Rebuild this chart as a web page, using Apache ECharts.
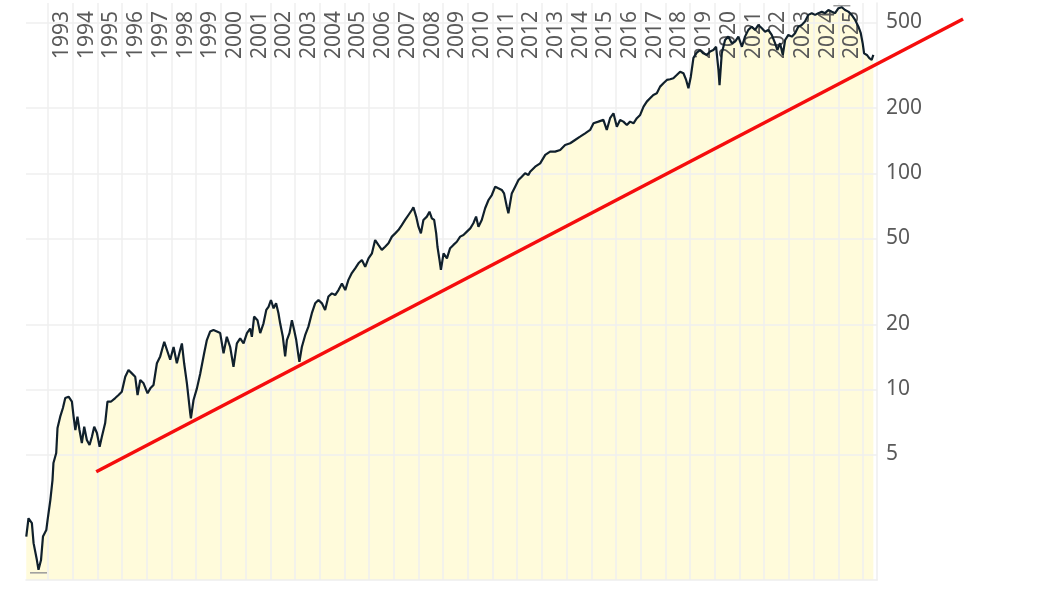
<!DOCTYPE html>
<html lang="en" style="height: 100%">
  <head>
    <meta charset="utf-8" />
    <script src="https://cdn.jsdelivr.net/npm/echarts@6/dist/echarts.min.js"></script>
  </head>
  <body style="height: 100%; margin: 0; background: #fff">
    <div id="container" style="width: 1058px; height: 595px"></div>
    <script type="text/javascript">
      // price history (log scale)
      const dates = [
        "1992-02-14", "1992-03-18", "1992-05-07", "1992-06-01", "1992-07-20", "1992-08-13", "1992-09-19", "1992-10-18",
        "1992-12-06", "1992-12-25", "1993-02-04", "1993-03-08", "1993-03-22", "1993-05-02", "1993-05-21", "1993-06-30",
        "1993-08-09", "1993-09-13", "1993-11-01", "1993-12-20", "1994-01-14", "1994-02-09", "1994-03-12", "1994-04-11",
        "1994-05-16", "1994-06-20", "1994-07-29", "1994-09-07", "1994-10-12", "1994-11-15", "1994-12-25", "1995-02-03",
        "1995-03-08", "1995-04-26", "1995-05-30", "1995-07-19", "1995-09-22", "1995-11-10", "1995-12-28", "1996-02-17",
        "1996-04-05", "1996-05-25", "1996-07-13", "1996-08-17", "1996-09-26", "1996-11-14", "1997-01-12", "1997-02-22",
        "1997-04-10", "1997-05-30", "1997-07-18", "1997-09-16", "1997-10-26", "1997-12-13", "1998-02-01", "1998-03-21",
        "1998-05-09", "1998-06-04", "1998-07-07", "1998-08-17", "1998-10-05", "1998-10-15", "1998-11-23", "1999-01-12",
        "1999-03-01", "1999-04-29", "1999-06-08", "1999-07-26", "1999-09-14", "1999-11-04", "1999-12-22", "2000-02-10",
        "2000-03-29", "2000-05-18", "2000-07-06", "2000-08-25", "2000-10-13", "2000-12-02", "2001-01-21", "2001-03-09",
        "2001-04-04", "2001-05-07", "2001-06-26", "2001-08-05", "2001-09-23", "2001-11-03", "2001-12-06", "2002-01-11",
        "2002-02-19", "2002-03-28", "2002-05-02", "2002-05-27", "2002-07-06", "2002-08-09", "2002-09-04", "2002-10-12",
        "2002-11-17", "2002-12-20", "2003-01-20", "2003-02-23", "2003-03-08", "2003-04-13", "2003-06-01", "2003-07-19",
        "2003-09-08", "2003-10-27", "2003-12-15", "2004-02-04", "2004-03-22", "2004-05-10", "2004-06-30", "2004-08-18",
        "2004-10-06", "2004-11-26", "2005-01-14", "2005-03-02", "2005-04-21", "2005-06-10", "2005-07-28", "2005-09-17",
        "2005-11-05", "2005-12-24", "2006-02-13", "2006-04-01", "2006-05-19", "2006-07-09", "2006-08-27", "2006-10-15",
        "2006-12-05", "2007-01-23", "2007-03-11", "2007-04-30", "2007-06-18", "2007-08-07", "2007-09-26", "2007-10-19",
        "2007-11-29", "2008-01-02", "2008-02-07", "2008-03-15", "2008-05-05", "2008-06-13", "2008-07-18", "2008-08-21",
        "2008-09-20", "2008-10-09", "2008-11-08", "2008-11-29", "2009-01-07", "2009-02-26", "2009-04-14", "2009-06-02",
        "2009-07-22", "2009-09-10", "2009-10-28", "2009-12-18", "2010-02-06", "2010-03-24", "2010-05-03", "2010-06-07",
        "2010-07-26", "2010-09-14", "2010-11-03", "2010-12-22", "2011-02-10", "2011-03-28", "2011-05-18", "2011-06-21",
        "2011-08-01", "2011-08-24", "2011-10-13", "2011-12-02", "2012-01-20", "2012-03-09", "2012-04-27", "2012-06-15",
        "2012-07-10", "2012-09-23", "2012-12-06", "2013-02-19", "2013-05-02", "2013-07-15", "2013-09-28", "2013-12-10",
        "2014-02-23", "2014-05-06", "2014-07-19", "2014-10-02", "2014-12-15", "2015-02-03", "2015-04-16", "2015-06-29",
        "2015-08-18", "2015-10-06", "2015-11-25", "2016-01-14", "2016-03-02", "2016-04-20", "2016-06-10", "2016-07-28",
        "2016-09-16", "2016-11-05", "2016-12-24", "2017-02-12", "2017-04-01", "2017-05-19", "2017-07-07", "2017-08-27",
        "2017-10-15", "2017-12-03", "2018-01-23", "2018-03-11", "2018-04-29", "2018-06-18", "2018-08-07", "2018-09-25",
        "2018-11-04", "2018-12-08", "2019-01-12", "2019-02-20", "2019-04-10", "2019-05-28", "2019-07-16", "2019-09-05",
        "2019-10-24", "2019-12-12", "2020-01-21", "2020-02-25", "2020-03-12", "2020-04-14", "2020-06-02", "2020-07-20",
        "2020-09-10", "2020-10-28", "2020-12-16", "2021-02-06", "2021-03-24", "2021-05-12", "2021-07-01", "2021-08-20",
        "2021-10-08", "2021-11-28", "2022-01-15", "2022-03-04", "2022-04-23", "2022-06-11", "2022-07-15", "2022-08-24",
        "2022-10-04", "2022-11-07", "2022-12-25", "2023-02-14", "2023-04-03", "2023-05-21", "2023-07-10", "2023-08-28",
        "2023-10-16", "2023-12-06", "2024-01-24", "2024-03-12", "2024-05-02", "2024-06-20", "2024-08-08", "2024-09-28",
        "2024-11-15", "2025-01-04", "2025-02-23", "2025-04-11", "2025-05-30", "2025-07-19", "2025-09-07", "2025-10-26",
        "2025-11-30", "2025-12-28", "2026-01-18", "2026-02-28", "2026-04-05", "2026-05-10", "2026-06-04"
      ];
      const prices = [
        2.08, 2.53, 2.40, 1.94, 1.62, 1.46, 1.62, 2.08,
        2.23, 2.48, 3.07, 3.80, 4.56, 5.07, 6.62, 7.47,
        8.19, 9.11, 9.24, 8.76, 7.47, 6.48, 7.47, 6.48,
        5.64, 6.71, 5.82, 5.52, 6.03, 6.71, 6.28, 5.42,
        6.03, 6.98, 8.76, 8.76, 9.11, 9.41, 9.75, 11.44,
        12.28, 11.85, 11.44, 9.41, 11.04, 10.66, 9.58, 10.1,
        10.47, 13.2, 14.2, 16.6, 15.2, 13.7, 15.7, 13.2,
        15.2, 16.3, 13.2, 10.66, 7.74, 7.34, 8.92, 10.1,
        11.77, 14.68, 16.9, 18.5, 18.8, 18.5, 18.2, 14.68,
        17.5, 15.7, 12.7, 16.3, 17.2, 16.3, 18.2, 19.1,
        17.5, 21.7, 20.9, 18.2, 20.2, 23.3, 24.1, 25.9,
        23.7, 25.0, 22.5, 20.2, 17.5, 14.2, 16.9, 18.2,
        20.9, 18.8, 16.9, 14.2, 13.4, 15.7, 17.8, 19.5,
        22.5, 25.0, 25.9, 25.0, 23.3, 26.9, 27.8, 27.3,
        28.8, 30.9, 28.8, 32.1, 34.5, 36.3, 38.3, 39.7,
        36.9, 40.4, 42.6, 49.1, 46.6, 44.2, 45.7, 47.4,
        50.9, 52.7, 54.6, 57.6, 60.8, 64.1, 67.6, 69.6,
        63.0, 56.6, 52.7, 60.8, 63.0, 66.4, 61.9, 60.8,
        52.7, 45.7, 39.7, 35.7, 42.6, 40.4, 45.0, 46.6,
        48.2, 50.9, 51.8, 53.7, 55.6, 58.7, 63.0, 56.6,
        60.8, 68.9, 75.2, 79.3, 86.7, 85.2, 83.7, 80.7,
        70.0, 65.3, 80.7, 86.7, 93.1, 96.4, 100, 98.2,
        101.7, 107.3, 111.2, 121.6, 126.0, 126.0, 128.2, 135.2,
        137.7, 142.6, 147.7, 153.1, 158.7, 170.4, 173.4, 176.6,
        158.7, 179.8, 189.6, 164.3, 176.6, 173.4, 167.3, 173.4,
        170.4, 179.8, 186.2, 203.4, 214.6, 222.4, 230.5, 234.4,
        251.8, 261.0, 270.4, 272.4, 275.4, 285.1, 295.3, 290.4,
        270.4, 247.5, 280.0, 342, 362, 372, 359, 353,
        366, 372, 385, 301, 256, 359, 414, 429,
        400, 407, 429, 385, 429, 461, 477, 461,
        486, 469, 452, 461, 437, 400, 372, 400,
        353, 414, 437, 429, 445, 477, 486, 504,
        541, 551, 541, 551, 560, 551, 570, 560,
        551, 581, 587, 570, 560, 541, 513, 477,
        445, 400, 359, 353, 341, 335, 353
      ];

      // red trend line end points
      const trendDates = ["1994-12-15", "2030-01-21"];
      const trendValues = [4.15, 518];

      // axis labels
      const yearLabels = [
        1993, 1994, 1995, 1996, 1997, 1998, 1999, 2000, 2001, 2002, 2003,
        2004, 2005, 2006, 2007, 2008, 2009, 2010, 2011, 2012, 2013, 2014,
        2015, 2016, 2017, 2018, 2019, 2020, 2021, 2022, 2023, 2024, 2025
      ];
      const gridYears = yearLabels.concat([2026]);
      const yTicks = [5, 10, 20, 50, 100, 200, 500];

      // dates -> UTC timestamps, used on a plain value axis
      function ts(d) {
        var p = d.split("-");
        return Date.UTC(+p[0], +p[1] - 1, +p[2]);
      }
      const xMin = ts("1992-02-10");
      const xMax = ts("2026-07-28");

      // the trend line runs past the plot, so it gets a wider twin grid
      // with the same scale (plot is 851px wide, the twin 937px)
      const plotLeft = 26, plotRight = 181, twinRight = 95;
      const W = 1058;
      const xMaxTwin =
        xMin + ((xMax - xMin) * (W - twinRight - plotLeft)) / (W - plotRight - plotLeft);

      const lineData = dates.map(function (d, i) {
        return [ts(d), prices[i]];
      });
      const trendData = trendDates.map(function (d, i) {
        return [ts(d), trendValues[i]];
      });

      var dom = document.getElementById("container");
      var myChart = echarts.init(dom, null, { renderer: "canvas" });

      var labelFont = {
        color: "#5a5a5a",
        fontSize: 21,
        fontFamily: "Noto Sans",
      };

      var option = {
        animation: false,
        backgroundColor: "#ffffff",
        textStyle: { fontFamily: "Noto Sans" },
        grid: [
          {
            left: plotLeft,
            right: plotRight,
            top: 3,
            bottom: 15,
            outerBoundsMode: "none",
          },
          {
            left: plotLeft,
            right: twinRight,
            top: 3,
            bottom: 15,
            outerBoundsMode: "none",
          },
        ],
        xAxis: [
          {
            type: "value",
            gridIndex: 0,
            position: "top",
            min: xMin,
            max: xMax,
            z: 5,
            axisLine: { show: false },
            axisTick: {
              show: false,
              customValues: gridYears.map(function (y) {
                return Date.UTC(y, 0, 1);
              }),
            },
            splitLine: {
              show: true,
              lineStyle: { color: "#efefef", width: 1.5 },
            },
            axisLabel: Object.assign(
              {
                inside: true,
                rotate: -90,
                margin: 8,
                customValues: yearLabels.map(function (y) {
                  return Date.UTC(y, 6, 28);
                }),
                formatter: function (val) {
                  return String(new Date(val).getUTCFullYear());
                },
              },
              labelFont
            ),
          },
          {
            type: "value",
            gridIndex: 0,
            position: "bottom",
            min: xMin,
            max: xMax,
            z: 5,
            axisLine: { show: true, lineStyle: { color: "#eeeeee", width: 1.5 } },
            axisTick: { show: false },
            axisLabel: { show: false },
            splitLine: { show: false },
          },
          {
            type: "value",
            gridIndex: 1,
            min: xMin,
            max: xMaxTwin,
            show: false,
          },
        ],
        yAxis: [
          {
            type: "log",
            gridIndex: 0,
            logBase: 10,
            position: "right",
            min: 1.31,
            max: 614,
            z: 5,
            axisLine: { show: true, lineStyle: { color: "#eeeeee", width: 1.5 } },
            axisTick: { show: false, customValues: yTicks },
            splitLine: {
              show: true,
              lineStyle: { color: "#efefef", width: 1.5 },
            },
            axisLabel: Object.assign(
              {
                customValues: yTicks,
                margin: 9,
              },
              labelFont
            ),
          },
          {
            type: "log",
            gridIndex: 1,
            logBase: 10,
            min: 1.31,
            max: 614,
            show: false,
          },
        ],
        series: [
          {
            // yellow fill under the price line
            type: "line",
            xAxisIndex: 0,
            yAxisIndex: 0,
            data: lineData,
            symbol: "none",
            lineStyle: { width: 0 },
            areaStyle: { color: "#fffbdb", opacity: 1, origin: "start" },
            z: 1,
          },
          {
            type: "line",
            xAxisIndex: 0,
            yAxisIndex: 0,
            data: lineData,
            symbol: "none",
            lineStyle: { color: "#10202c", width: 2.2 },
            markPoint: {
              symbol: "rect",
              symbolSize: [17, 1.5],
              itemStyle: { color: "#9a9a9a" },
              label: { show: false },
              data: [
                { type: "min", symbolOffset: [0, 3] },
                { type: "max", symbolOffset: [0, -1.5] },
              ],
            },
            z: 10,
          },
          {
            type: "line",
            xAxisIndex: 2,
            yAxisIndex: 1,
            data: trendData,
            symbol: "none",
            lineStyle: { color: "#f50d0d", width: 3.5 },
            z: 12,
          },
        ],
      };

      myChart.setOption(option);
      window.addEventListener("resize", myChart.resize);
    </script>
  </body>
</html>
